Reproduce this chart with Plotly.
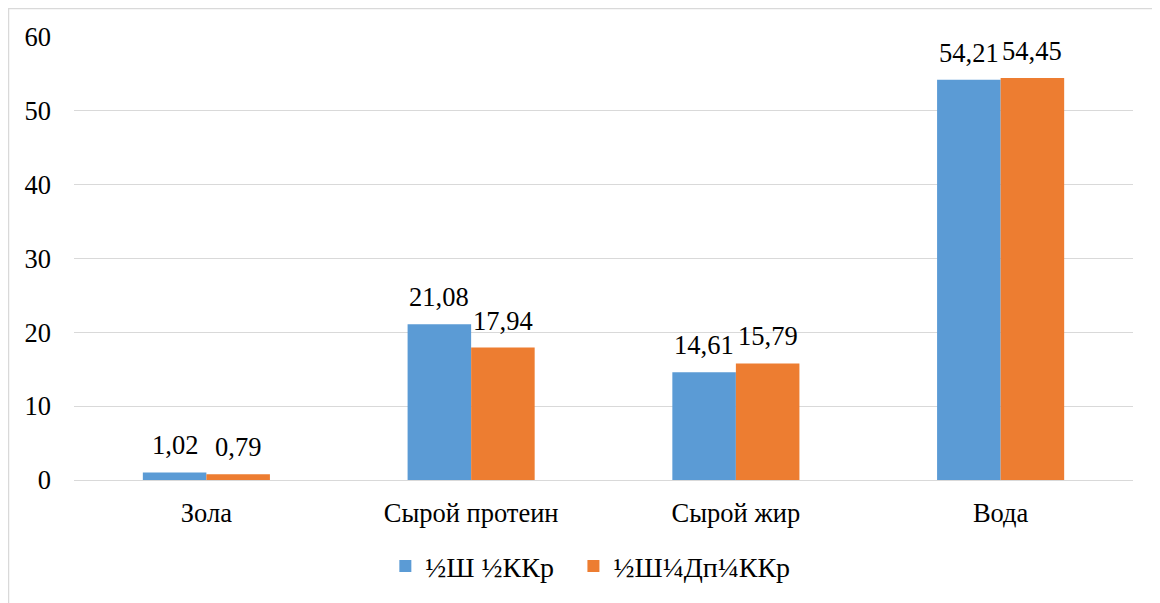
import plotly.graph_objects as go

categories = ["Зола", "Сырой протеин", "Сырой жир", "Вода"]
series1_name = "½Ш ½ККр"
series1 = [1.02, 21.08, 14.61, 54.21]
series2_name = "½Ш¼Дп¼ККр"
series2 = [0.79, 17.94, 15.79, 54.45]

FONT = "Times New Roman"
FS = 26.5
BAR_HALF = 31.75  # pixel offset of each bar centre from the category centre

fig = go.Figure()
fig.add_trace(go.Bar(x=categories, y=series1, name=series1_name, marker_color="#5B9BD5",
                     legend="legend", showlegend=True))
fig.add_trace(go.Bar(x=categories, y=series2, name=series2_name, marker_color="#ED7D31",
                     legend="legend2", showlegend=True))

annotations = []
for vals, shift in ((series1, -BAR_HALF), (series2, BAR_HALF)):
    for c, v in zip(categories, vals):
        annotations.append(dict(
            x=c, y=v, xref="x", yref="y", text=f"{v:.2f}".replace(".", ","),
            showarrow=False, xanchor="center", yanchor="bottom", xshift=shift, yshift=10,
            font=dict(size=FS, family=FONT, color="#000000")))

legend_common = dict(orientation="h", y=-0.195, yanchor="middle", xanchor="left",
                     font=dict(size=28, family=FONT, color="#000000"), itemwidth=30,
                     bgcolor="rgba(0,0,0,0)")

fig.update_layout(
    template="none",
    showlegend=True,
    width=1160, height=603,
    separators=", ",
    barmode="group", bargap=0.52, bargroupgap=0,
    margin=dict(l=66, r=35, t=29, b=131),
    paper_bgcolor="white", plot_bgcolor="white",
    font=dict(family=FONT, size=FS, color="#000000"),
    legend=dict(x=0.294, **legend_common),
    legend2=dict(x=0.4716, **legend_common),
    xaxis=dict(showgrid=False, showline=False, ticks="",
               tickfont=dict(size=FS, family=FONT, color="#000000"), ticklabelstandoff=14),
    yaxis=dict(range=[0, 60], dtick=10, showgrid=True, gridcolor="#D9D9D9", gridwidth=1,
               zeroline=True, zerolinecolor="#D9D9D9", zerolinewidth=1,
               showline=False, ticks="", tickfont=dict(size=FS, family=FONT, color="#000000"),
               ticklabelstandoff=22),
    annotations=annotations,
    shapes=[dict(type="rect", xref="paper", yref="paper",
                 x0=-65.5 / 1059, x1=1.2, y0=-0.5, y1=(443 + 28.5) / 443,
                 line=dict(color="#D9D9D9", width=1.5), fillcolor="rgba(0,0,0,0)", layer="below")],
)

fig.write_html("out.html")
